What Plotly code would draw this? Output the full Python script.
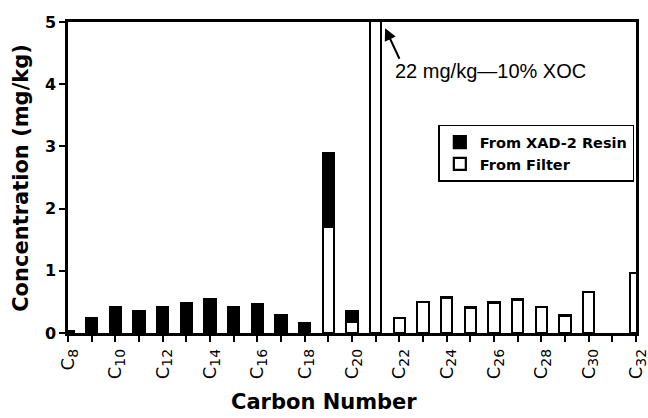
import plotly.graph_objects as go

carbons = list(range(8, 33))
resin = [0.03, 0.24, 0.41, 0.36, 0.42, 0.48, 0.54, 0.41, 0.46, 0.28, 0.16, 1.18, 0.17,
         None, None, None, None, None, None, None, None, None, None, None, None]
filt = [None, None, None, None, None, None, None, None, None, None, None, 1.71, 0.18,
        22.0, 0.24, 0.50, 0.57, 0.41, 0.49, 0.54, 0.42, 0.28, 0.66, None, 0.97]
tick_labels = [f"C<sub><span style='font-size:14px'>{c}</span></sub>" if c % 2 == 0 else ""
               for c in carbons]

FONT = "Liberation Sans, Arial, sans-serif"
BOLD = "DejaVu Sans, Liberation Sans, sans-serif"

fig = go.Figure()
fig.add_trace(go.Bar(x=carbons, y=filt, name="From Filter", width=0.48,
                     marker=dict(color="white", line=dict(color="black", width=2.2)),
                     legendrank=2))
fig.add_trace(go.Bar(x=carbons, y=resin, name="From XAD-2 Resin", width=0.48,
                     marker=dict(color="black", line=dict(color="black", width=2.2)),
                     legendrank=1))

fig.update_layout(
    width=648, height=418,
    margin=dict(l=68, r=12, t=22, b=85),
    barmode="stack",
    plot_bgcolor="white", paper_bgcolor="white",
    font=dict(family=FONT, color="black"),
    showlegend=True,
    legend=dict(x=0.652, y=0.67, xanchor="left", yanchor="top", traceorder="normal",
                bordercolor="black", borderwidth=1.5, bgcolor="white",
                font=dict(size=14.5, family=BOLD, weight="bold"),
                tracegroupgap=2, itemwidth=30),
)
fig.update_xaxes(range=[8, 32], tickmode="array", tickvals=carbons, ticktext=tick_labels,
                 tickangle=-90, tickfont=dict(size=18, family="DejaVu Sans"), ticks="outside",
                 ticklen=6, tickwidth=2, tickcolor="black", showline=True, linecolor="black",
                 linewidth=2.5, mirror=True, showgrid=False, zeroline=False, automargin=False,
                 ticklabeloverflow="allow")
fig.update_yaxes(range=[0, 5], tickvals=[0, 1, 2, 3, 4, 5], ticks="outside", ticklen=6,
                 tickwidth=2, tickcolor="black", tickfont=dict(size=16, family=BOLD, weight="bold"),
                 showline=True, linecolor="black", linewidth=2.5, mirror=True,
                 showgrid=False, zeroline=False, automargin=False)

fig.add_annotation(text="Carbon Number", xref="paper", yref="paper", x=0.45, y=-0.222,
                   xanchor="center", yanchor="middle", showarrow=False,
                   font=dict(size=21, family=BOLD, weight="bold"))
fig.add_annotation(text="Concentration (mg/kg)", xref="paper", yref="paper", x=-0.084, y=0.5,
                   xanchor="center", yanchor="middle", textangle=-90, showarrow=False,
                   font=dict(size=21, family=BOLD, weight="bold"))
fig.add_annotation(text="22 mg/kg\u201410% XOC", xref="paper", yref="paper", x=0.573, y=0.841,
                   xanchor="left", yanchor="middle", showarrow=False,
                   font=dict(size=20, family=FONT))
fig.add_annotation(text="", x=21.4, y=4.9, xref="x", yref="y", showarrow=True,
                   arrowhead=2, arrowsize=1.2, arrowwidth=2, arrowcolor="black",
                   ax=15, ay=32)

fig.write_html("out.html")
